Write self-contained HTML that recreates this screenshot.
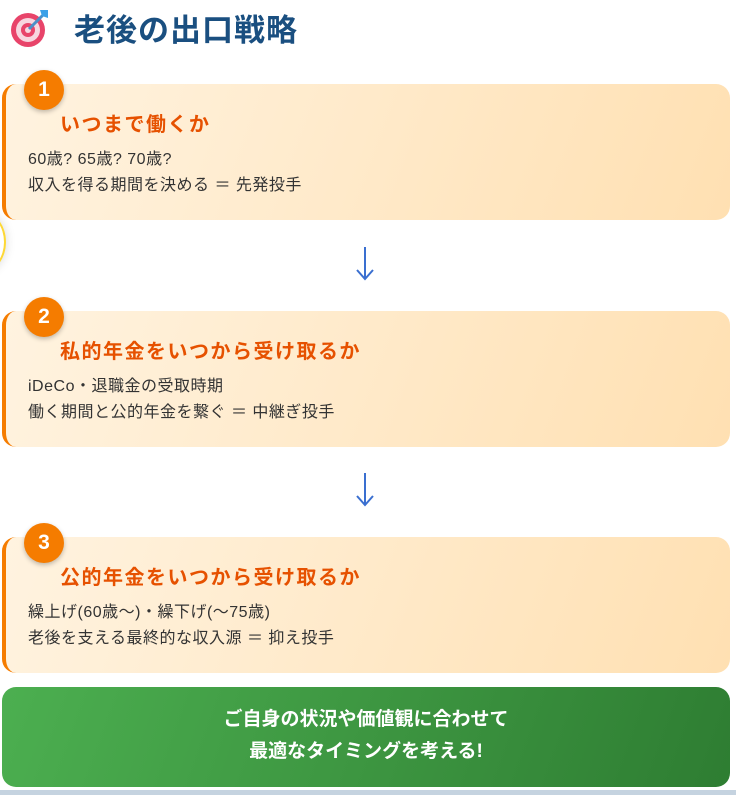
<!DOCTYPE html>
<html><head><meta charset="utf-8"><style>
*{margin:0;padding:0;box-sizing:border-box}
body{width:736px;height:795px;background:#fff;position:relative;overflow:hidden;font-family:"Liberation Sans","Noto Sans CJK JP",sans-serif}
.title{position:absolute;left:74px;top:5px;font-size:31px;font-weight:bold;color:#1a4f80;letter-spacing:1px}
.card{position:absolute;left:2px;width:728px;height:136px;border-radius:14px;border-left:4px solid #f57c00;background:linear-gradient(110deg,#fff3e0,#ffe0b2)}
.badge{position:absolute;left:24px;width:40px;height:40px;border-radius:50%;background:#f57c00;color:#fff;font-weight:bold;font-size:21px;text-align:center;line-height:40px;box-shadow:0 2px 5px rgba(0,0,0,.25)}
.h{position:absolute;left:54px;top:24px;font-size:20px;letter-spacing:1.5px;font-weight:bold;color:#e65100}
.b{position:absolute;left:22px;top:63px;font-size:16px;letter-spacing:0.5px;line-height:26px;color:#333}
.arr{position:absolute;left:355px}
.green{position:absolute;left:2px;top:687px;width:728px;height:100px;border-radius:14px;background:linear-gradient(110deg,#4caf50,#2e7d32);color:#fff;font-weight:bold;font-size:19px;text-align:center;line-height:32px;padding-top:17px}
</style></head><body>
<svg style="position:absolute;left:8px;top:6px" width="44" height="44" viewBox="0 0 44 44">
<circle cx="20" cy="24" r="17" fill="#e8446a"/><circle cx="20" cy="24" r="12" fill="#f7d6df"/><circle cx="20" cy="24" r="7" fill="#e8446a"/><circle cx="20" cy="24" r="3" fill="#f7d6df"/>
<line x1="21" y1="23" x2="36" y2="8" stroke="#4a90c8" stroke-width="3"/><path d="M32 4 L40 4 L40 12 L34 10 Z" fill="#3ba0e8"/>
</svg>
<div class="title">老後の出口戦略</div>
<div style="position:absolute;left:-40px;top:212px;width:46px;height:60px;border-radius:50%;border:2px solid #fdd835;box-shadow:0 0 10px rgba(0,0,0,.15)"></div>

<div class="card" style="top:84px"><div class="h">いつまで働くか</div><div class="b">60歳? 65歳? 70歳?<br>収入を得る期間を決める ＝ 先発投手</div></div>
<div class="badge" style="top:70px">1</div>
<svg class="arr" style="top:245px" width="20" height="38"><line x1="10" y1="2" x2="10" y2="34" stroke="#3a6fd0" stroke-width="2"/><polyline points="2,25 10,34 18,25" fill="none" stroke="#3a6fd0" stroke-width="2"/></svg>

<div class="card" style="top:311px"><div class="h">私的年金をいつから受け取るか</div><div class="b">iDeCo・退職金の受取時期<br>働く期間と公的年金を繋ぐ ＝ 中継ぎ投手</div></div>
<div class="badge" style="top:297px">2</div>
<svg class="arr" style="top:471px" width="20" height="38"><line x1="10" y1="2" x2="10" y2="34" stroke="#3a6fd0" stroke-width="2"/><polyline points="2,25 10,34 18,25" fill="none" stroke="#3a6fd0" stroke-width="2"/></svg>

<div class="card" style="top:537px"><div class="h">公的年金をいつから受け取るか</div><div class="b">繰上げ(60歳～)・繰下げ(～75歳)<br>老後を支える最終的な収入源 ＝ 抑え投手</div></div>
<div class="badge" style="top:523px">3</div>

<div class="green">ご自身の状況や価値観に合わせて<br>最適なタイミングを考える!</div>
<div style="position:absolute;left:0;top:790px;width:736px;height:5px;background:#c5d3e0"></div>
</body></html>
